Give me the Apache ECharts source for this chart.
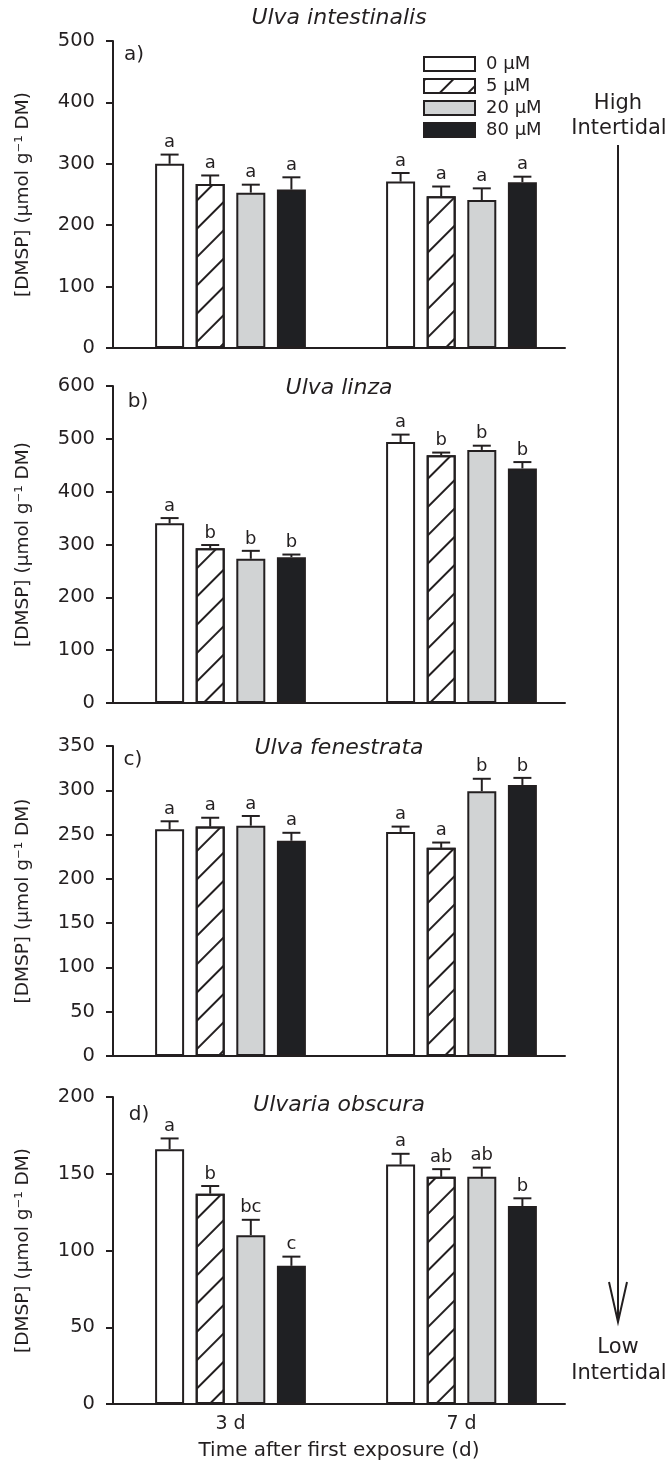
<!DOCTYPE html>
<html><head><meta charset="utf-8">
<script src="https://cdn.jsdelivr.net/npm/echarts@6/dist/echarts.min.js"></script>
<style>html,body{margin:0;padding:0;background:#fff}#c{width:668px;height:1465px}</style>
</head><body><div id="c"></div>
<script>
// ---- data ----
const timeLabels = ['3 d', '7 d'];
const concLabels = ['0 \u03bcM', '5 \u03bcM', '20 \u03bcM', '80 \u03bcM'];
const panelTitles = ['Ulva intestinalis', 'Ulva linza', 'Ulva fenestrata', 'Ulvaria obscura'];
const panelTags = ['a)', 'b)', 'c)', 'd)'];
const yMax = [500, 600, 350, 200];
const yStep = [100, 100, 50, 50];
// means per concentration: [3 d, 7 d]
const meanA = [[300, 271], [267, 247], [253, 241], [258, 270]];
const errA  = [[15, 14], [14, 16], [13, 19], [20, 9]];
const letA  = [['a', 'a'], ['a', 'a'], ['a', 'a'], ['a', 'a']];
const meanB = [[340, 494], [293, 469], [273, 479], [276, 444]];
const errB  = [[10, 14], [6, 5], [15, 8], [5, 12]];
const letB  = [['a', 'a'], ['b', 'b'], ['b', 'b'], ['b', 'b']];
const meanC = [[256, 253], [259, 235], [260, 299], [243, 306]];
const errC  = [[9, 6], [10, 6], [11, 14], [9, 8]];
const letC  = [['a', 'a'], ['a', 'a'], ['a', 'b'], ['a', 'b']];
const meanD = [[166, 156], [137, 148], [110, 148], [90, 129]];
const errD  = [[7, 7], [5, 5], [10, 6], [6, 5]];
const letD  = [['a', 'a'], ['b', 'ab'], ['bc', 'ab'], ['c', 'b']];

const means = [meanA, meanB, meanC, meanD];
const errs = [errA, errB, errC, errD];
const lets = [letA, letB, letC, letD];

// ---- style / layout ----
const INK = '#231f20';
const FONT = "'DejaVu Sans', 'Liberation Sans', sans-serif";
const fills = ['#ffffff', '#ffffff', '#d1d3d4', '#1f2023'];
const gridTop = [41, 386, 746, 1097];
const gridH = [307, 317, 310, 307];
const XMIN = 0.4913, XMAX = 2.4481;
const BAR_W = 29, BAR_GAP = 0.4;
const SPACING = BAR_W * (1 + BAR_GAP);
const hatch = {
  symbol: 'rect', symbolSize: 1, dashArrayX: [1, 0], dashArrayY: [2, 18],
  rotation: -Math.PI / 4, color: INK
};

const grids = [], xAxes = [], yAxes = [], series = [];
for (let p = 0; p < 4; p++) {
  grids.push({ left: 113, right: 103, top: gridTop[p], height: gridH[p] });
  xAxes.push({
    type: 'value', gridIndex: p, min: XMIN, max: XMAX,
    axisLine: { show: true, onZero: false, lineStyle: { color: INK, width: 2 } },
    axisTick: { show: false }, splitLine: { show: false },
    axisLabel: {
      show: p === 3, customValues: [1, 2], margin: 11,
      formatter: v => timeLabels[Math.round(v) - 1],
      color: INK, fontFamily: FONT, fontSize: 19
    },
    name: p === 3 ? 'Time after first exposure (d)' : '',
    nameLocation: 'middle', nameGap: 37,
    nameTextStyle: { color: INK, fontFamily: FONT, fontSize: 20 }
  });
  yAxes.push({
    type: 'value', gridIndex: p, min: 0, max: yMax[p], interval: yStep[p],
    axisLine: { show: true, lineStyle: { color: INK, width: 2 } },
    axisTick: { show: true, length: 7, lineStyle: { color: INK, width: 2 } },
    splitLine: { show: false },
    axisLabel: { color: INK, fontFamily: FONT, fontSize: 19.5, margin: 18 },
    name: '[DMSP] (\u00b5mol g\u207b\u00b9 DM)', nameLocation: 'middle', nameGap: 80,
    nameRotate: 90,
    nameTextStyle: { color: INK, fontFamily: FONT, fontSize: 18.5 }
  });
  for (let c = 0; c < 4; c++) {
    series.push({
      type: 'bar', name: concLabels[c], xAxisIndex: p, yAxisIndex: p,
      barWidth: BAR_W, barGap: (BAR_GAP * 100) + '%',
      itemStyle: Object.assign({ color: fills[c], borderColor: INK, borderWidth: 2 },
        c === 1 ? { decal: hatch } : {}),
      emphasis: { disabled: true },
      data: timeLabels.map((t, ti) => [ti + 1, means[p][c][ti]])
    });
  }
  const rows = [], rowLetters = [];
  for (let c = 0; c < 4; c++) for (let ti = 0; ti < 2; ti++) {
    rows.push([ti + 1, means[p][c][ti], errs[p][c][ti], c]);
    rowLetters.push(lets[p][c][ti]);
  }
  series.push({
    type: 'custom', xAxisIndex: p, yAxisIndex: p, z: 5, silent: true,
    encode: { x: 0, y: 1 }, data: rows,
    renderItem: (params, api) => {
      const x = api.value(0), m = api.value(1), e = api.value(2), ci = api.value(3);
      const b = api.coord([x, m]), t = api.coord([x, m + e]);
      const cx = b[0] + (ci - 1.5) * SPACING;
      return {
        type: 'group', children: [
          { type: 'line', shape: { x1: cx, y1: b[1], x2: cx, y2: t[1] }, style: { stroke: INK, lineWidth: 2 } },
          { type: 'line', shape: { x1: cx - 9, y1: t[1], x2: cx + 9, y2: t[1] }, style: { stroke: INK, lineWidth: 2 } },
          { type: 'text', x: cx, y: t[1] - 3, style: { text: rowLetters[params.dataIndex], align: 'center', verticalAlign: 'bottom', fill: INK, font: '18px ' + FONT } }
        ]
      };
    }
  });
}

const graphics = [];
const titleY = [18, 388, 748, 1105];
const tagPos = [[134, 55], [138, 402], [133, 760], [139, 1115]];
for (let p = 0; p < 4; p++) {
  graphics.push({ type: 'text', x: 339, y: titleY[p], style: { text: panelTitles[p], align: 'center', verticalAlign: 'middle', fill: INK, font: 'italic 22px ' + FONT } });
  graphics.push({ type: 'text', x: tagPos[p][0], y: tagPos[p][1], style: { text: panelTags[p], align: 'center', verticalAlign: 'middle', fill: INK, font: '20px ' + FONT } });
}
const sideFont = '21px ' + FONT;
graphics.push({ type: 'text', x: 618, y: 104, style: { text: 'High', align: 'center', verticalAlign: 'middle', fill: INK, font: sideFont } });
graphics.push({ type: 'text', x: 619, y: 129, style: { text: 'Intertidal', align: 'center', verticalAlign: 'middle', fill: INK, font: sideFont } });
graphics.push({ type: 'text', x: 618, y: 1348, style: { text: 'Low', align: 'center', verticalAlign: 'middle', fill: INK, font: sideFont } });
graphics.push({ type: 'text', x: 619, y: 1374, style: { text: 'Intertidal', align: 'center', verticalAlign: 'middle', fill: INK, font: sideFont } });
graphics.push({ type: 'line', shape: { x1: 618, y1: 145, x2: 618, y2: 1321 }, style: { stroke: INK, lineWidth: 2 } });
graphics.push({ type: 'polyline', shape: { points: [[609, 1282], [618, 1322], [627, 1282]] }, style: { stroke: INK, lineWidth: 2, fill: null } });

const option = {
  animation: false,
  backgroundColor: '#ffffff',
  textStyle: { fontFamily: FONT },
  grid: grids, xAxis: xAxes, yAxis: yAxes, series: series,
  legend: {
    data: concLabels, orient: 'vertical', left: 423, top: 55, padding: 0,
    itemWidth: 51, itemHeight: 14, itemGap: 4, icon: 'rect',
    itemStyle: { borderColor: INK, borderWidth: 2 },
    textStyle: { color: INK, fontFamily: FONT, fontSize: 18, lineHeight: 14, padding: [0, 0, 0, 6] },
    selectedMode: false
  },
  graphic: graphics
};
const chart = echarts.init(document.getElementById('c'), null, { renderer: 'canvas' });
chart.setOption(option);
</script>
</body></html>
